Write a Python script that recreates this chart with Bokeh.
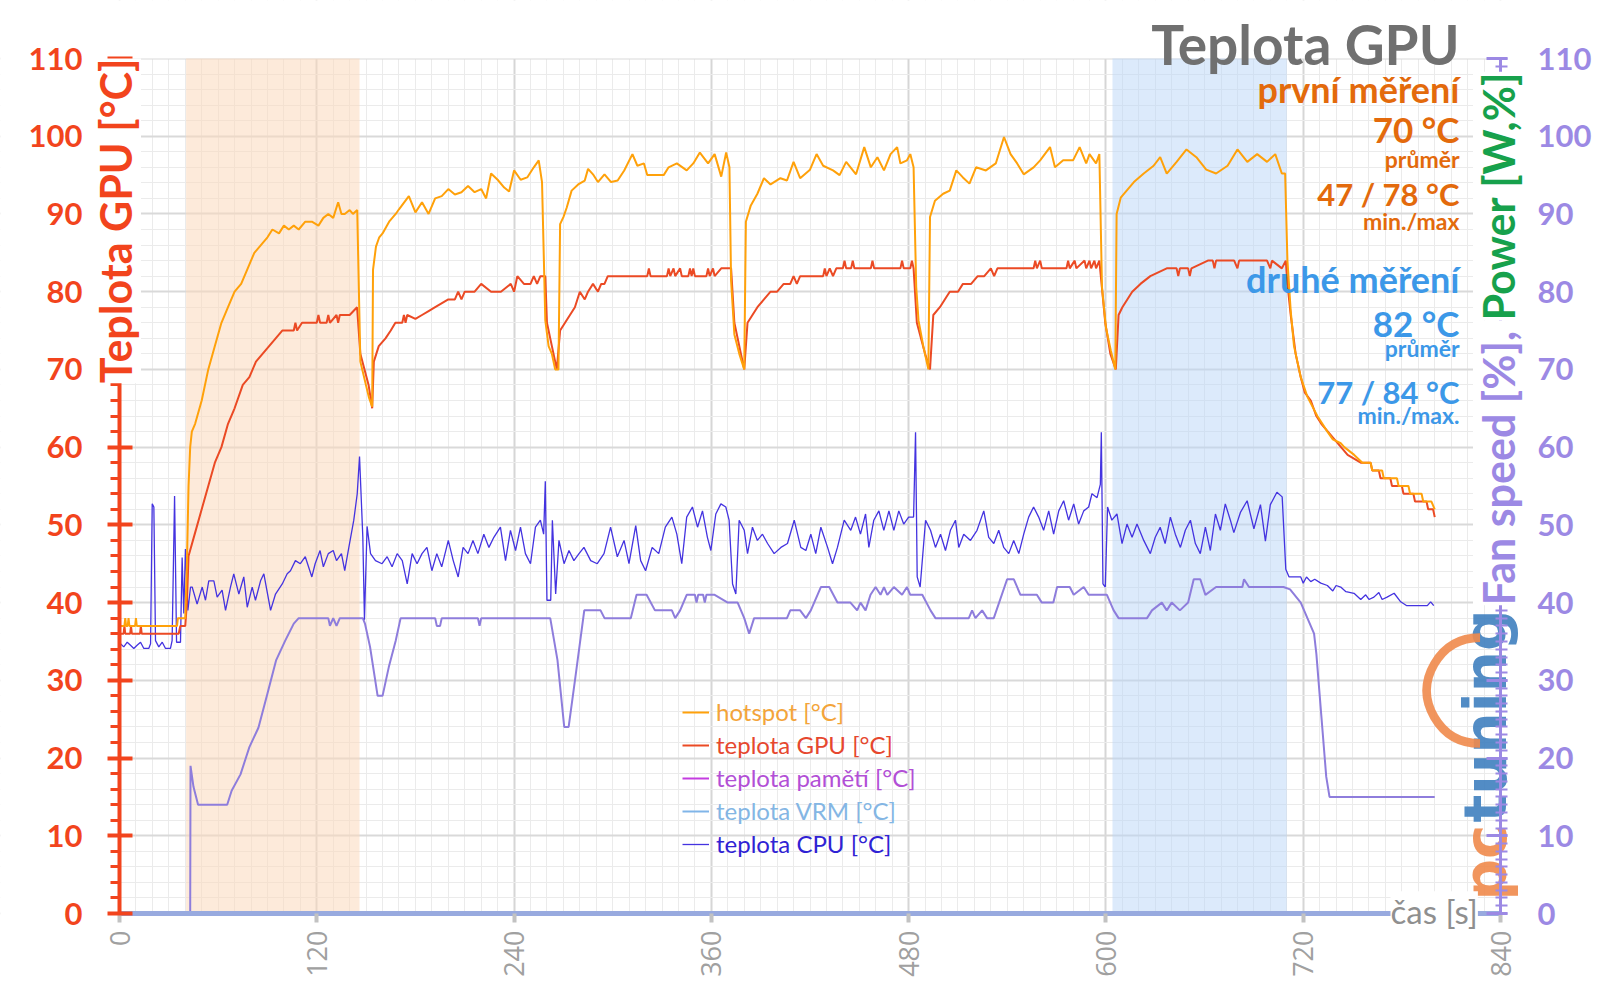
import math
from bokeh.plotting import figure
from bokeh.models import (Range1d, FixedTicker, BoxAnnotation, Label,
                          Legend, LegendItem, LinearAxis)
from bokeh.embed import file_html
from bokeh.resources import INLINE

# ---------------- data (time [s], value) ----------------
x_ticks = [0, 120, 240, 360, 480, 600, 720, 840]
x_minor = list(range(0, 841, 10))
y_ticks = list(range(0, 111, 10))
y_minor_left = list(range(0, 111, 2))
y_minor_right = list(range(0, 111, 1))

load_first = (40.5, 146)     # orange shaded interval [s]
load_second = (604, 710)     # blue shaded interval [s]

hotspot = [(0,37),(3,37),(3.5,38),(4,37),(5,37),(5.5,38),(6,37),(9.5,37),(10,38),(10.5,37),
    (35,37),(35.5,38),(40,38),(41,45),(42,55),(43,60),(44,62),(46,63),(50,66),(54,70),
    (58,73),(62,76),(66,78),(70,80),(74,81),(78,83),(82,85),(86,86),(90,87),(93,88),
    (97,87.5),(100,88.5),(103,88),(106,88.5),(109,88),(113,89),(117,89),(121,88.5),(124,89.5),(127,90),
    (130,89.5),(133,91.5),(135,90),(137,90),(140,90.5),(142,90),(144.6,90.5),(146.5,71),(151.7,66.4),(153.7,65.2),
    (154.2,82.8),(156,85.8),(158,87),(160,87.5),(164,89),(168,90),(170,90.6),(176,92.3),(180,90.2),(184,91.5),
    (188,90),(192,92),(196,92.3),(200,93.2),(204,92.5),(208,92.8),(212,93.6),(216,92.8),(220,93.2),(223,92),
    (226,95.2),(230,94.4),(234,93.4),(237,92.9),(240,95.6),(244,94.4),(248,94.7),(252,96),(255,96.9),(257,94.1),
    (259,76.3),(261,73),(263,72),(265,70),(267,70),(268,88.7),(270,89.6),(272,90.8),(275,93),(279,93.8),
    (283,94.3),(285,95.8),(288,95.1),(291,94.1),(295,95.1),(299,94.1),(303,94.3),(307,95.6),(312,97.7),(315,96.2),
    (319,96.5),(321,95),(331,95),(334,96),(339,96.5),(345,95.6),(349,96.5),(353,97.9),(358,96.5),(362,97.7),
    (366,94.8),(369,97.9),(371,96),(372,81.4),(374,74.5),(377,72),(380,70),(381,89),(384,91.1),(388,92.6),
    (392,94.6),(396,93.8),(402,94.6),(406,94.3),(410,96.7),(414,94.6),(420,95.7),(424,97.7),(428,96.2),(434,95.6),
    (438,95),(442,96.7),(448,95.1),(453,98.6),(457,96),(461,97.3),(465,95.6),(469,97.7),(473,98.6),(475,96.5),
    (479,96.9),(481,97.7),(483,96),(484.6,80.6),(486,76.3),(489,72.9),(492,70),(493,89.6),(496,91.7),(501,92.6),
    (505,93),(509,95.6),(513,94.7),(517,93.9),(521,96),(527,95.6),(533,96.5),(538,99.9),(542,97.7),(546,96.5),
    (550,95.1),(556,96),(560,96.9),(566,98.6),(569,96),(574,96.9),(580,96.9),(584,98.6),(588,96.5),(590,97.7),
    (594,96.5),(596,97.7),(597.6,80.6),(600,75.4),(603,72.4),(605.7,70),(606.5,90),(609,92.1),(613,93.1),(617,94.1),
    (623,95.2),(629,96.2),(633,97.3),(637,95.2),(643,96.7),(649,98.3),(655,97.3),(661,95.7),(667,95.2),(674,96.2),
    (680,98.3),(686,96.7),(692,97.7),(698,96.7),(703,97.7),(707,95.2),(709,95.2),(710.4,84),(712.4,77.5),(714.4,73),
    (718.5,69),(722.5,66.5),(728.6,64),(734.7,62),(738,61),(742.8,60.5),(745,60),(751,59),(756,58),(761,58),
    (762,57),(768,57),(769,56),(777,56),(778,55),(784,55),(785,54),(792,54),(793,53),(798,53),
    (800,52)]

gpu = [(0,36),(2.5,36),(3,37),(3.5,36),(6.5,36),(7,37),(7.5,36),(12.5,36),(13,37),(13.5,36),
    (36,36),(37,37),(40,37),(41,40),(42,46),(46,49),(50,52),(54,55),(58,58),(62,60),
    (66,63),(70,65),(75,68),(79,69),(83,71),(87,72),(91,73),(95,74),(99,75),(106,75),
    (107,76),(108,75),(111,76),(120,76),(121,77),(122,76),(126,76),(127,77),(128,76),(132,77),
    (133,76),(134,77),(140,77),(144.5,78),(146.5,72),(151.5,68),(153.7,65),(154.7,71),(157.7,73),(161.8,74),
    (165,75),(167.8,76),(172,76),(173,77),(174,76),(175,77),(180,76.5),(184,77),(188,77.5),(192,78),
    (200,79),(204,79),(206,80),(208,79),(210,80),(216,80),(220,81),(226,80),(232,80),(238,81),
    (240,80),(242,82),(246,81),(250,81),(252,82),(254,81),(256,82),(259,82),(260,76),(263,73),
    (266,70),(268,75),(271,76),(274,77),(277,78),(280,80),(283,79),(285,80),(288,81),(291,80),
    (293,81),(295,81),(297,82),(321,82),(322,83),(323,82),(333,82),(334,83),(335,82),(337,83),
    (338,82),(341,83),(342,82),(346,82),(347,83),(348,82),(349,83),(350,82),(357,82),(358,83),
    (359,82),(361,83),(362,82),(366,83),(372,83),(374,76),(378,72),(380,70),(382,76),(385,77),
    (388,78),(392,79),(396,80),(400,80),(404,81),(408,81),(410,82),(412,81),(414,82),(428,82),
    (429,83),(430,82),(432,83),(434,82),(436,83),(440,83),(441,84),(442,83),(445,83),(446,84),
    (447,83),(457,83),(458,84),(459,83),(475,83),(476,84),(477,83),(481,83),(482,84),(483,83),
    (485,76),(490,72),(493,70),(495,77),(499,78),(502,79),(505,80),(510,80),(513,81),(518,81),
    (522,82),(526,82),(530,83),(532,82),(534,83),(556,83),(557,84),(558,83),(560,84),(561,83),
    (576,83),(577,84),(578,83),(581,84),(582,83),(587,84),(588,83),(590,84),(591,83),(593,84),
    (594,83),(596,84),(599.6,76),(602.7,72),(606,70),(607.7,77),(610,78),(613,79),(616,80),(621,81),
    (627,82),(637,83),(643,83),(644,82),(645,83),(650,83),(651,82),(652,83),(662,84),(665,84),
    (666,83),(667,84),(678,84),(680,83),(681,84),(698,84),(700,83),(701,84),(707,83),(709.4,84),
    (710.4,81),(712.4,77),(715.4,72),(718.5,69),(721,67),(724.6,66),(728,64),(731,63),(735,62),(739,61),
    (743,60),(747,59),(755,58),(761,58),(762,57),(766,57),(767,56),(773,56),(774,55),(780,55),
    (781,54),(787,54),(788,53),(795,53),(796,52),(799,52),(800,51)]

cpu = [(0.6,34.7),(2.6,34.3),(4.7,34.9),(6.7,34.5),(8.7,34.1),(10.7,34.5),(12.8,34.9),(14.8,34.1),(17.8,34.1),(18.9,34.7),
    (19.9,52.7),(20.9,52.3),(21.9,35.1),(23.9,34.3),(26,34.9),(28,34.1),(31,34.1),(32,35.1),(33.5,53.7),(34.7,34.9),
    (37.1,34.9),(38.1,45.8),(39.1,38.6),(40.1,46.9),(41.6,39),(43.2,42),(44.2,42),(47.2,39.8),(50.3,42),(52.3,40.3),
    (54.3,42.8),(57.4,42.8),(59.4,40.7),(62.4,41.6),(64.5,39),(67.5,42),(69.5,43.7),(72.6,41.1),(75.6,43.3),(77.7,39.4),
    (80.7,42),(82.7,40.3),(85.8,42.8),(87.8,43.7),(91.9,39),(94.9,41.1),(99,42.4),(102,43.7),(104,44.1),(107,45.4),
    (110,45),(113,45.9),(117,43.3),(119,45),(122,46.7),(124,44.6),(127,46.3),(130,46.7),(132,45.4),(135,46.3),
    (137,44.1),(139.5,47.1),(142.5,50.6),(144.6,54),(146,58.8),(148,48.4),(149,37.8),(150.6,49.8),(152.7,46.3),(155.7,45.4),
    (159.7,45),(162.8,45.9),(165.8,44.6),(168.9,46.3),(172,45.4),(175,42.4),(178,46.3),(181,45),(184,46.3),(187,47.1),
    (190,44.1),(193,46.3),(196,44.6),(200,48),(203,45.4),(206,43.3),(209,47.1),(212,46.3),(215,48),(218,46.3),
    (221.6,48.8),(224.7,47.1),(227.7,48.4),(231.7,49.7),(234.8,45.4),(237.8,49.3),(240.9,46.7),(243.9,49.7),(246.9,46.3),(250,45),
    (253,49.7),(256,50.6),(258,48.8),(259,55.6),(260,40.3),(262.3,40.3),(263.3,50.6),(265.3,41.1),(267.3,48),(270.4,45),
    (273.4,46.7),(276.4,45.4),(279.5,46.3),(282.5,47.1),(286.6,45.4),(290.6,45),(294.7,46.3),(298.7,49.7),(302.8,45.9),(306.9,48),
    (309.9,45),(314,49.9),(317,45.4),(320,44.1),(324,47.1),(328,46.3),(332,49.7),(336,51),(339,48.8),(342,45),
    (345,51),(348.5,52.3),(351.6,49.7),(354.6,51.8),(357.6,48.4),(359.7,46.7),(362.7,51.4),(365.8,52.7),(368.8,52.3),(370.8,50.6),
    (372.9,42.4),(374.9,41.1),(376.9,50.6),(380,49.3),(382,46.3),(385,49.7),(388,48),(391.1,48.8),(394.2,47.6),(398.2,46.3),
    (402.3,47.1),(406.3,47.6),(410.4,50.6),(414.4,47.1),(417.5,46.7),(420.5,48.8),(423.5,46.3),(426.6,49.7),(430.7,47.1),(433.7,45),
    (436.7,47.1),(440.8,50.6),(444.8,49.3),(447.7,51),(450.7,48.8),(453.8,51.4),(455.8,47.1),(458.8,50.6),(461.9,51.8),(464.9,49.3),
    (468,51.8),(471,49.3),(474,51.8),(477,50.1),(480,51),(483,51),(484.2,61.9),(485.2,43.3),(487,42),(490.3,50.6),
    (493.3,49.3),(496.3,47.1),(499.4,48.8),(502.4,46.7),(505.4,49.3),(508.5,50.6),(510.5,47.1),(513.5,48.8),(517.6,48),(521.6,49.3),
    (525.7,51.8),(528.7,48.4),(531.8,47.6),(534.8,49.3),(537.8,47.1),(540.9,46.3),(543.9,48),(547,46.3),(550,48.8),(553,51),
    (556,52.3),(559.1,51),(562.1,49.3),(565.2,51.8),(568.2,48.8),(571.3,51.8),(574.3,53.1),(577.3,50.6),(580.4,52.7),(583.4,50.1),
    (586.5,51.8),(589.5,52.3),(591.5,54),(594.6,53.5),(596.6,55.2),(597.2,61.9),(598.2,42.4),(599.6,42),(601,52.3),(603.6,50.6),
    (606.7,51.4),(609.8,47.6),(612.8,50.1),(615.9,48.4),(618.9,50.1),(623,48),(627,46.3),(630,48.4),(633,49.7),(636,47.6),
    (639.2,51),(642.2,48.8),(645.3,47.1),(648.3,49.3),(651.4,50.6),(654.4,47.6),(657.4,46.3),(660.5,49.7),(663.5,46.7),(666.6,51.4),
    (669.6,49.3),(672.6,52.7),(675.7,50.6),(677.8,49),(681.8,51.6),(685.9,53.1),(690,49.5),(694,52.6),(697,47.9),(700,52.6),
    (704,54.2),(707.2,53.6),(709.4,44.3),(711.4,43.3),(718.5,43.3),(720,42.5),(722,43.3),(724.6,42.7),(727,43),(730.7,42.5),
    (734.7,42.2),(738,41.5),(740,42.2),(742.8,42),(746,41.4),(750.9,41.2),(755,40.4),(758,41),(760,40.4),(763,40.7),
    (766,41.3),(768,40.4),(771,40.7),(775.3,41.2),(779.3,40.1),(783,39.6),(787.4,39.6),(795.5,39.6),(797.5,40.1),(799.4,39.6)]

fan = [(0,0),(43,0),(43.2,19),(45,16.3),(47.8,14),(65.5,14),(68.2,15.8),(73.6,17.9),(79,21.4),(84.5,23.9),
    (90,28.3),(95.3,32.6),(100.8,35.1),(106,37.3),(109,38),(127,38),(128,37),(130,38),(132,37),(134,38),
    (148,38),(149.3,37.3),(152.4,34.3),(157,28),(160,28),(163.8,31.7),(168,35.1),(171,38),(192,38),(193,37),
    (195,37),(196,38),(218,38),(219,37),(220,38),(262,38),(266.4,32.6),(270.5,24),(273.2,24),(277.3,30.4),
    (282.7,39),(292.6,39),(295,38),(311,38),(314.5,41),(320.6,41),(325.7,39),(336,39),(338,38),(341,39),
    (345,41),(350,41),(351,40),(352,41),(355,41),(356,40),(357,41),(362,41),(370,40),(376,40),
    (380,38),(383,36),(386,38),(406,38),(408,39),(414,39),(417.5,38),(420.5,39),(426.6,42),(431.7,42),
    (436.7,40),(444.6,40),(448.7,39),(450.7,40),(453.8,39),(456.8,41),(459.9,42),(462.9,41),(465,42),(467,41),
    (471,42),(476,41),(479,42),(481,41),(488.3,41),(493.3,39),(496.3,38),(516.6,38),(518.6,39),(520.6,38),
    (524.7,39),(527.7,38),(531.8,38),(539.9,43),(544,43),(548,41),(558,41),(561,40),(568,40),(570.3,42),
    (578,42),(580.4,41),(586.5,42),(589.5,41),(600.6,41),(604.7,39),(607.7,38),(625,38),(628,39),(634,40),
    (637,39),(640,40),(645,39),(650,40),(653.4,43),(657.4,43),(660.5,41),(667,42),(683,42),(684,43),
    (687,42),(708,42),(712,41.7),(718.5,40),(726.6,36),(728,33.4),(731,25.5),(734,17.6),(736,15),(800,15)]

memory = [(0, float("nan"))]   # teplota pamětí - no visible data
vrm = [(0, float("nan"))]      # teplota VRM - no visible data

# ---------------- layout constants (page pixels) ----------------
W, H = 1598, 1006
PX0, PX1 = 119, 1500      # page x of t = 0 and t = 840
PY0, PY1 = 913, 58        # page y of 0 and 110
XMAX, YMAX = 840, 110
kx = (PX1 - PX0) / XMAX
ky = (PY0 - PY1) / YMAX
BASE = 0.37               # baseline correction (fraction of font size)

RED = "#F2441D"
HOT = "#FFA10A"
GPUC = "#EB4A24"
CPUC = "#4433E0"
FANC = "#8E7DDC"
MEMC = "#C43CE0"
VRMC = "#80B5E8"
PURP = "#9C89E4"
GREEN = "#17A14C"
ORG_T = "#E36A0C"
BLU_T = "#3C98E8"
TITLE_C = "#707070"
LOGO_O = "#F08A4B"
LOGO_B = "#3F7FBF"

xr = Range1d(-PX0 / kx, XMAX + (W - PX1) / kx)
yr = Range1d(-(H - PY0) / ky, YMAX + PY1 / ky)

p = figure(width=W, height=H, x_range=xr, y_range=yr,
           output_backend="svg", toolbar_location=None,
           min_border=0, min_border_left=0, min_border_right=0,
           min_border_top=0, min_border_bottom=0)
p.outline_line_color = None
p.extra_y_ranges = {"fan": Range1d(yr.start, yr.end)}

# grid
p.xgrid.ticker = FixedTicker(ticks=x_ticks, minor_ticks=x_minor)
p.xgrid.grid_line_color = "#D6D6D6"
p.xgrid.grid_line_width = 2
p.xgrid.minor_grid_line_color = "#EBEBEB"
p.xgrid.minor_grid_line_width = 1
p.ygrid.ticker = FixedTicker(ticks=y_ticks, minor_ticks=y_minor_left)
p.ygrid.grid_line_color = "#D9D9D9"
p.ygrid.grid_line_width = 2
p.ygrid.minor_grid_line_color = "#EBEBEB"
p.ygrid.minor_grid_line_width = 1

# white masks so the grid only covers the data area
for kw in (dict(bottom=YMAX), dict(top=0), dict(right=0), dict(left=XMAX)):
    p.add_layout(BoxAnnotation(fill_color="white", fill_alpha=1, line_color=None,
                               level="underlay", **kw))

# shaded intervals
p.add_layout(BoxAnnotation(left=load_first[0], right=load_first[1], bottom=0, top=YMAX,
                           fill_color="#FBD9BC", fill_alpha=0.55, line_color=None, level="underlay"))
p.add_layout(BoxAnnotation(left=load_second[0], right=load_second[1], bottom=0, top=YMAX,
                           fill_color="#B9D6F8", fill_alpha=0.5, line_color=None, level="underlay"))

# text annotations positioned in page pixels
def lab(text, px, py, size, color, align="right", baseline="alphabetic", angle=0.0,
        bold=True, font="Lato", bg=None, level="annotation", alpha=1.0):
    l = Label(x=px, y=H - py, x_units="screen", y_units="screen", text=text,
              text_font=font, text_font_size=f"{size}px",
              text_font_style="bold" if bold else "normal",
              text_color=color, text_alpha=alpha, text_align=align,
              text_baseline=baseline, angle=angle, level=level)
    if bg:
        l.background_fill_color = bg
    p.add_layout(l)

# logo watermark (under the axes)
lab("pc", 1507 - BASE * 58, 900, 58, LOGO_O, align="left", angle=math.pi / 2,
    font="DejaVu Sans", level="underlay", alpha=0.9)
lab("tuning", 1507 - BASE * 58, 822, 58, LOGO_B, align="left", angle=math.pi / 2,
    font="DejaVu Sans", level="underlay", alpha=0.9)
lab("\u25E0", 1466, 690, 150, LOGO_O, align="center", baseline="middle",
    angle=math.pi / 2, bold=False, font="DejaVu Sans", level="underlay", alpha=0.9)

# bottom axis (fixed at y = 0)
xa = p.xaxis[0]
xa.fixed_location = 0
xa.bounds = (0, XMAX)
xa.ticker = FixedTicker(ticks=x_ticks, minor_ticks=[])
xa.axis_line_color = "#98AADF"
xa.axis_line_width = 5
xa.major_tick_line_color = "#C2C2C2"
xa.major_tick_line_width = 4
xa.major_tick_in = 0
xa.major_tick_out = 9
xa.minor_tick_line_color = None
xa.major_label_orientation = math.pi / 2
xa.major_label_text_color = "#A0A0A0"
xa.major_label_text_font = "Open Sans"
xa.major_label_text_font_size = "27px"
xa.major_label_standoff = 8

# left axis (fixed at x = 0)
ya = p.yaxis[0]
ya.fixed_location = 0
ya.bounds = (0, YMAX)
ya.ticker = FixedTicker(ticks=y_ticks, minor_ticks=y_minor_left)
ya.axis_line_color = RED
ya.axis_line_width = 4
ya.major_tick_line_color = RED
ya.major_tick_line_width = 4
ya.major_tick_in = 13
ya.major_tick_out = 12
ya.minor_tick_line_color = RED
ya.minor_tick_line_width = 3
ya.minor_tick_in = 0
ya.minor_tick_out = 9
ya.major_label_text_color = RED
ya.major_label_text_font = "Lato"
ya.major_label_text_font_style = "bold"
ya.major_label_text_font_size = "31px"
ya.major_label_standoff = 25

# right axis (fixed at x = 840)
ra = LinearAxis(y_range_name="fan", fixed_location=XMAX, bounds=(0, YMAX),
                ticker=FixedTicker(ticks=y_ticks, minor_ticks=y_minor_right))
ra.axis_line_color = PURP
ra.axis_line_width = 3
ra.major_tick_line_color = PURP
ra.major_tick_line_width = 3
ra.major_tick_in = 14
ra.major_tick_out = 7
ra.minor_tick_line_color = PURP
ra.minor_tick_line_width = 2
ra.minor_tick_in = 5
ra.minor_tick_out = 7
ra.major_label_text_color = PURP
ra.major_label_text_font = "Lato"
ra.major_label_text_font_style = "bold"
ra.major_label_text_font_size = "31px"
ra.major_label_standoff = 30
p.add_layout(ra, "right")

# series
def xs(data):
    return [d[0] for d in data]

def ys(data):
    return [d[1] for d in data]

r_fan = p.line(xs(fan), ys(fan), color=FANC, line_width=2, y_range_name="fan")
r_cpu = p.line(xs(cpu), ys(cpu), color=CPUC, line_width=1.3)
r_mem = p.line(xs(memory), ys(memory), color=MEMC, line_width=2)
r_vrm = p.line(xs(vrm), ys(vrm), color=VRMC, line_width=2)
r_gpu = p.line(xs(gpu), ys(gpu), color=GPUC, line_width=2)
r_hot = p.line(xs(hotspot), ys(hotspot), color=HOT, line_width=2)

# legend: one per entry so each label keeps its own colour (page y = row centre)
legend_rows = [("hotspot [°C]", r_hot, "#F3A43A", 714),
               ("teplota GPU [°C]", r_gpu, "#E6472E", 747),
               ("teplota pamětí [°C]", r_mem, "#B24FD6", 780),
               ("teplota VRM [°C]", r_vrm, "#84B6E4", 813),
               ("teplota CPU [°C]", r_cpu, "#2F22D4", 846)]
for text, rend, col, py in legend_rows:
    lg = Legend(items=[LegendItem(label=text, renderers=[rend])], location=(682, H - py - 12),
                padding=0, margin=0, spacing=0, border_line_color=None,
                background_fill_alpha=0, glyph_width=27, glyph_height=20,
                label_standoff=7, label_height=20,
                label_text_color=col, label_text_font="Lato",
                label_text_font_size="24px", label_text_line_height=1.0)
    p.add_layout(lg)

# right-hand text block (page baselines, corrected for the renderer's baseline offset)
RX = 1459
for text, py, size, col in [("Teplota GPU", 64, 55, TITLE_C),
                            ("první měření", 102, 36, ORG_T),
                            ("70 °C", 141, 35, ORG_T),
                            ("průměr", 167, 23, ORG_T),
                            ("47 / 78 °C", 205, 31, ORG_T),
                            ("min./max", 229, 23, ORG_T),
                            ("druhé měření", 292, 36, BLU_T),
                            ("82 °C", 335, 35, BLU_T),
                            ("průměr", 356, 23, BLU_T),
                            ("77 / 84 °C", 403, 31, BLU_T),
                            ("min./max.", 423, 23, BLU_T)]:
    lab(text, RX, py - BASE * size, size, col)

# axis titles
lab("Teplota GPU [°C]", 115, 58, 43, RED, align="right", baseline="middle",
    angle=math.pi / 2, bg="white")
lab("Fan speed [%], ", 1498, 320, 43, PURP, align="right", baseline="middle",
    angle=math.pi / 2, bg="white")
lab("Power [W,%]", 1498, 320, 43, GREEN, align="left", baseline="middle",
    angle=math.pi / 2, bg="white")
lab("čas [s]", 1390, 923 - BASE * 33, 33, "#8F8F8F", align="left", bold=False, bg="white")

open("out.html", "w").write(file_html(p, INLINE))
